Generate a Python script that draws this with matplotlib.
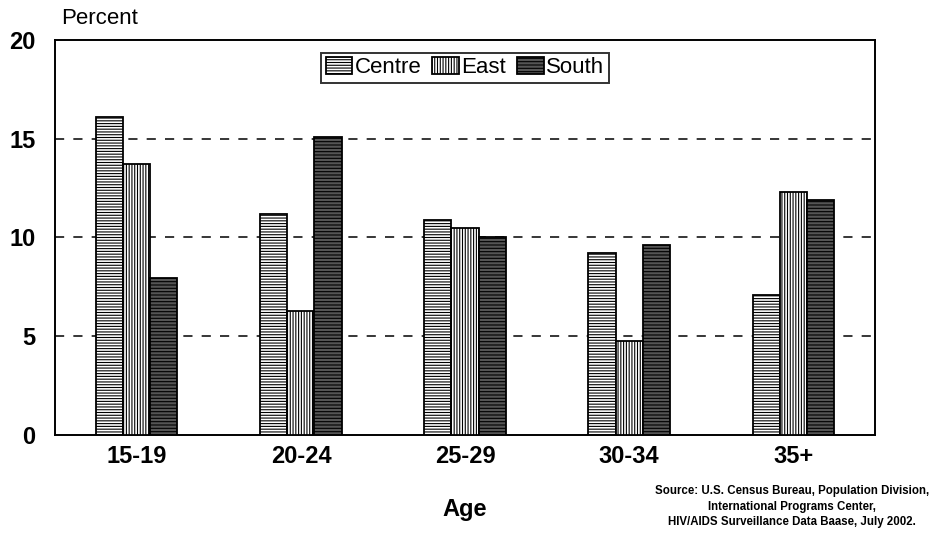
import matplotlib.pyplot as plt
import numpy as np

plt.rcParams['font.family'] = ['Liberation Sans', 'DejaVu Sans']
plt.rcParams['hatch.linewidth'] = 0.8

ages = ['15-19', '20-24', '25-29', '30-34', '35+']
centre = [16.1, 11.2, 10.9, 9.2, 7.1]
east = [13.7, 6.3, 10.5, 4.75, 12.3]
south = [7.95, 15.1, 10.0, 9.6, 11.9]

fig = plt.figure(figsize=(9.3, 5.44), dpi=100)
ax = fig.add_axes([0.059, 0.2, 0.882, 0.727])

x = np.arange(len(ages))
w = 0.165

ax.bar(x - w, centre, w, color='white', edgecolor='black', hatch='------',
       linewidth=1.3, label='Centre', zorder=3)
ax.bar(x, east, w, color='white', edgecolor='black', hatch='||||||',
       linewidth=1.3, label='East', zorder=3)
ax.bar(x + w, south, w, color='#555555', edgecolor='black', hatch='-----',
       linewidth=1.3, label='South', zorder=3)

ax.set_xlim(-0.5, len(ages) - 0.5)
ax.set_ylim(0, 20)
ax.set_yticks([0, 5, 10, 15, 20])
ax.set_xticks(x)
ax.set_xticklabels(ages)
ax.tick_params(axis='both', labelsize=17, length=0, pad=7)
for lbl in ax.get_xticklabels() + ax.get_yticklabels():
    lbl.set_fontweight('bold')
ax.tick_params(axis='y', pad=14)

for yv in [5, 10, 15]:
    ax.axhline(yv, color='black', linestyle=(0, (6, 6)), linewidth=1.1, zorder=1)

for sp in ax.spines.values():
    sp.set_linewidth(1.4)

fig.text(0.066, 0.946, 'Percent', fontsize=16, ha='left', va='bottom')
ax.set_xlabel('Age', fontsize=17, fontweight='bold', labelpad=22)

leg = ax.legend(loc='upper center', ncol=3, fontsize=16, frameon=True,
                fancybox=False, edgecolor='black', handlelength=1.2,
                handleheight=0.8, handletextpad=0.1, columnspacing=0.5,
                borderpad=0.2, bbox_to_anchor=(0.5, 0.995))
leg.get_frame().set_linewidth(1.4)

fig.text(0.852, 0.03,
         'Source: U.S. Census Bureau, Population Division,\n'
         'International Programs Center,\n'
         'HIV/AIDS Surveillance Data Baase, July 2002.',
         fontsize=8.3, fontweight='bold', ha='center', va='bottom',
         linespacing=1.35)

fig.savefig('out.png', dpi=100)
